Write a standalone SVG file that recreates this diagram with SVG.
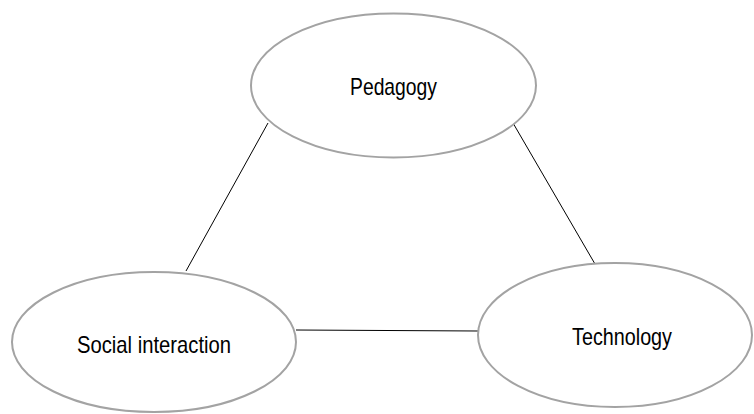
<svg xmlns="http://www.w3.org/2000/svg" width="754" height="414" viewBox="0 0 754 414">
<style>
.node{fill:#fff;stroke:#a3a3a3;stroke-width:2}
.lbl{font-family:"Liberation Sans",Arial,sans-serif;font-size:24px;fill:#000}
.edge{stroke:#000;stroke-width:1;fill:none}
</style>
<rect width="754" height="414" fill="#fff"/>
<g id="connectors">
<line class="edge" x1="268" y1="123" x2="186" y2="271"/>
<line class="edge" x1="513" y1="123" x2="595" y2="264"/>
<line class="edge" x1="296" y1="330" x2="478" y2="331"/>
</g>
<g id="pedagogy">
<ellipse class="node" cx="393.5" cy="85.5" rx="142.5" ry="72"/>
<text class="lbl" x="350" y="95" textLength="87" lengthAdjust="spacingAndGlyphs">Pedagogy</text>
</g>
<g id="social">
<ellipse class="node" cx="154" cy="342" rx="142" ry="70"/>
<text class="lbl" x="77" y="353" textLength="154" lengthAdjust="spacingAndGlyphs">Social interaction</text>
</g>
<g id="technology">
<ellipse class="node" cx="615" cy="335" rx="137" ry="72"/>
<text class="lbl" x="572" y="345" textLength="100" lengthAdjust="spacingAndGlyphs">Technology</text>
</g>
</svg>
